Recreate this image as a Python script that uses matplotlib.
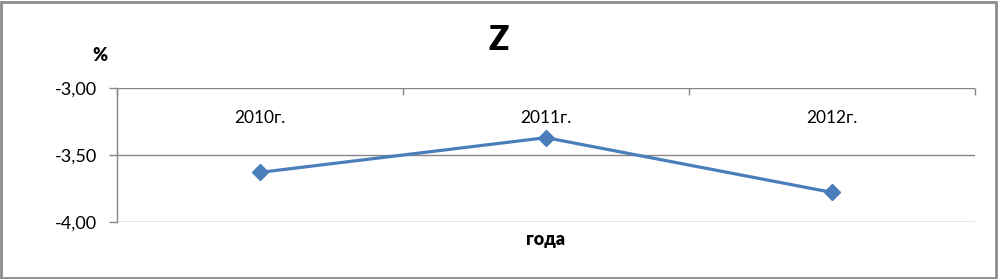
import matplotlib
matplotlib.use("Agg")
import matplotlib.pyplot as plt
from matplotlib.patches import Rectangle
from matplotlib.ticker import FuncFormatter

categories = ["2010г.", "2011г.", "2012г."]
values = [-3.63, -3.37, -3.78]
y_ticks = [-4.0, -3.5, -3.0]

plt.rcParams['font.family'] = ['Lato', 'DejaVu Sans']

fig = plt.figure(figsize=(9.99, 2.79), dpi=100)
ax = fig.add_axes([0.1176, 0.2054, 0.8579, 0.4781])

grid_c = "#868686"
line_c = "#4A7EBB"

x = list(range(len(categories)))
ax.plot(x, values, color=line_c, lw=2.3, marker="D", markersize=8.5,
        markeredgecolor=line_c, markerfacecolor=line_c, zorder=3, clip_on=False)

ax.set_xlim(-0.5, len(categories) - 0.5)
ax.set_ylim(-4.0, -3.0)
ax.set_yticks(y_ticks)
ax.yaxis.set_major_formatter(FuncFormatter(lambda v, p: f"{v:.2f}".replace(".", ",")))
for v in y_ticks:
    ax.axhline(v, color=grid_c, lw=1.0, zorder=1)

for s in ["top", "right", "bottom"]:
    ax.spines[s].set_visible(False)
ax.spines["left"].set_color(grid_c)
ax.spines["left"].set_linewidth(1.0)
ax.tick_params(axis="y", length=6, color=grid_c, width=1.0, pad=9,
               labelsize=13, labelcolor="black")

# category axis along the top (at -3.00), ticks at boundaries pointing down
ax.set_xticks([i - 0.5 for i in range(len(categories) + 1)])
ax.xaxis.tick_top()
ax.tick_params(axis="x", direction="in", length=5, color=grid_c, width=1.0,
               labeltop=False, labelbottom=False)
for i, c in enumerate(categories):
    ax.text(i, -3.22, c, ha="center", va="center", fontsize=12.5)

fig.text(0.4995, 0.855, "Z", ha="center", va="center", fontsize=24, fontweight="heavy")
fig.text(0.1005, 0.80, "%", ha="center", va="center", fontsize=13, fontweight="heavy")
fig.text(0.5465, 0.14, "года", ha="center", va="center", fontsize=13, fontweight="heavy")

fig.patches.append(Rectangle((0.0015, 0.004), 0.995, 0.99, transform=fig.transFigure,
                             fill=False, edgecolor="#8C8C8C", lw=2.0))

fig.savefig("out.png", dpi=100)
